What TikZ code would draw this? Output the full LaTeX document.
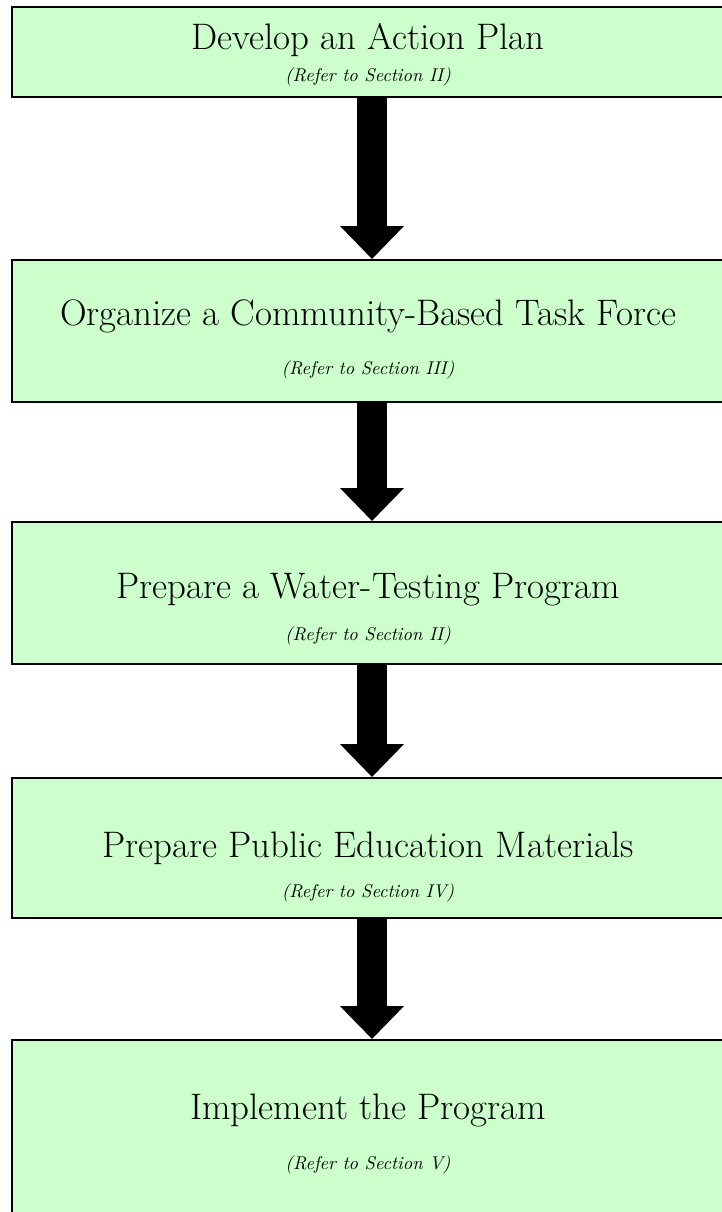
\documentclass[tikz,border=0pt]{standalone}
\usetikzlibrary{arrows.meta}
\definecolor{boxgreen}{HTML}{CCFFCC}
\tikzset{
  stepbox/.style={draw, fill=boxgreen, line width=1.1pt, minimum width=14.4cm, inner sep=0pt},
  steptitle/.style={font=\fontsize{21}{25}\selectfont, inner sep=0pt},
  stepref/.style={font=\fontsize{10.5}{12}\selectfont\itshape, inner sep=0pt},
  flow/.style={-{Triangle[length=0.66cm, width=1.24cm]}, line width=0.6cm},
}

\begin{document}
\begin{tikzpicture}[x=0.02cm, y=-0.02cm]
    \useasboundingbox (0,0) rectangle (722,1212);
    \node[stepbox, minimum height=1.8cm] (plan) at (372,52) {};
    \node[stepbox, minimum height=2.84cm] (taskforce) at (372,331) {};
    \node[stepbox, minimum height=2.84cm] (testing) at (372,593) {};
    \node[stepbox, minimum height=2.8cm] (education) at (372,848) {};
    \node[stepbox, minimum height=4.4cm] (implement) at (372,1150) {};
    \node[steptitle] (plantitle) at (368,40) {Develop an Action Plan};
    \node[stepref] (planref) at (368,77) {(Refer to Section II)};
    \node[steptitle] (taskforcetitle) at (368,316) {Organize a Community-Based Task Force};
    \node[stepref] (taskforceref) at (368,370) {(Refer to Section III)};
    \node[steptitle] (testingtitle) at (368,590) {Prepare a Water-Testing Program};
    \node[stepref] (testingref) at (368,636) {(Refer to Section II)};
    \node[steptitle] (educationtitle) at (368,848) {Prepare Public Education Materials};
    \node[stepref] (educationref) at (368,893) {(Refer to Section IV)};
    \node[steptitle] (implementtitle) at (368,1110) {Implement the Program};
    \node[stepref] (implementref) at (368,1165) {(Refer to Section V)};
    \draw[flow] (plan) -- (taskforce);
    \draw[flow] (taskforce) -- (testing);
    \draw[flow] (testing) -- (education);
    \draw[flow] (education) -- (implement);
\end{tikzpicture}
\end{document}
